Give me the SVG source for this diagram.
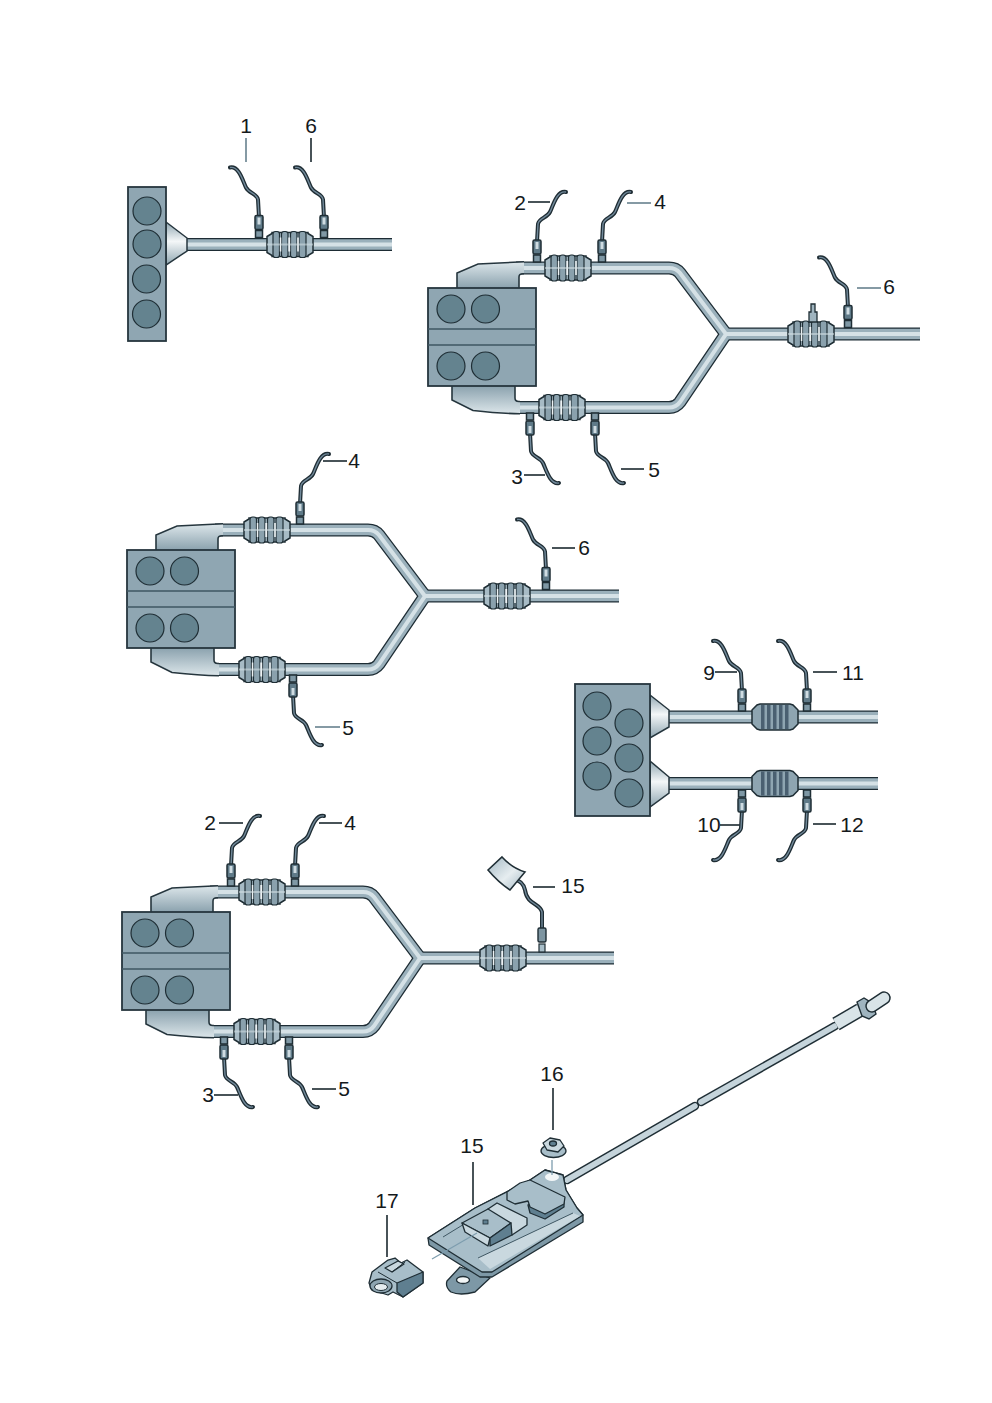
<svg xmlns="http://www.w3.org/2000/svg" width="992" height="1403" viewBox="0 0 992 1403">
<style>
text{font-family:"Liberation Sans",Arial,sans-serif;font-size:21px;fill:#14191c;text-anchor:middle}
.lead{stroke:#28343a;stroke-width:1.7;fill:none}
.leadl{stroke:#5d7886;stroke-width:1.5;fill:none}
.blk{fill:#8fa6b2;stroke:#26363e;stroke-width:1.8}
.cyl{fill:#64838f;stroke:#1f2e35;stroke-width:1.2}
.sep{stroke:#3f5763;stroke-width:1.4;fill:none}
.po{fill:none;stroke:#1d2c34;stroke-width:13}
.pm{fill:none;stroke:#9ab0bb;stroke-width:10.5}
.pl{fill:none;stroke:#d5e1e6;stroke-width:4}
.wo{fill:none;stroke:#1f2d34;stroke-width:4;stroke-linecap:round}
.wi{fill:none;stroke:#71899a;stroke-width:1.4}
.d{stroke:#1f2e35;stroke-width:1.3;stroke-linejoin:round}
.pa{fill:#a8bec9}.pb{fill:#c9d8df}.pc{fill:#5f7f90}.pw{fill:#f2f6f7}.ps{fill:#7d98a6}
</style>
<defs>
<linearGradient id="cone" x1="0" y1="0" x2="0" y2="1"><stop offset="0" stop-color="#8fa6b1"/><stop offset=".45" stop-color="#f4f7f8"/><stop offset="1" stop-color="#8fa6b1"/></linearGradient>
<linearGradient id="manT" x1="0" y1="0" x2="0" y2="1"><stop offset="0" stop-color="#dce6ea"/><stop offset="1" stop-color="#8ba2ae"/></linearGradient>
<linearGradient id="manB" x1="0" y1="0" x2="0" y2="1"><stop offset="0" stop-color="#8ba2ae"/><stop offset="1" stop-color="#dce6ea"/></linearGradient>
<linearGradient id="boxg" x1="0" y1="0" x2="1" y2="1"><stop offset="0" stop-color="#a3b8c3"/><stop offset=".55" stop-color="#e6edf0"/><stop offset="1" stop-color="#a3b8c3"/></linearGradient>
<g id="sensor">
<path class="wo" d="M-29-70C-20-72-16-56-13-50C-10-44-2-44-1-38L0-20"/>
<path class="wi" d="M-29-70C-20-72-16-56-13-50C-10-44-2-44-1-38L0-20"/>
<rect x="-4" y="-22" width="8" height="14" rx="1.500" fill="#5f7a88" stroke="#1f2e35" stroke-width="1.500"/>
<rect x="-1.500" y="-20" width="3" height="7" fill="#cfdce2"/>
<rect x="-3.500" y="-7" width="7" height="7" fill="#7f98a5" stroke="#1f2e35" stroke-width="1.500"/>
</g>
<g id="cat">
<path d="M-23-8L-18-11V-12H18V-11L23-8V8L18 11V12H-18V11L-23 8Z" fill="#a7bbc5" stroke="#1f2e35" stroke-width="1.500"/>
<g fill="#8aa1ad" stroke="#1f2e35" stroke-width="1.200">
<rect x="-17" y="-13" width="6.500" height="26" rx="2.500"/><rect x="-8.500" y="-13" width="6.500" height="26" rx="2.500"/><rect x="0.500" y="-13" width="6.500" height="26" rx="2.500"/><rect x="9" y="-13" width="7" height="26" rx="2.500"/>
</g>
<g fill="#eef3f5"><rect x="-10.200" y="-7" width="1.500" height="14"/><rect x="-1.700" y="-7" width="1.900" height="14"/><rect x="7.200" y="-7" width="1.600" height="14"/></g>
<path d="M-23 0H23" stroke="#d5e1e6" stroke-width="2" stroke-opacity=".55"/>
</g>
<g id="cat6">
<path d="M-23-7L-18-12L-15-13H15L18-12L23-7V7L18 12L15 13H-15L-18 12L-23 7Z" fill="#8ea5b1" stroke="#1f2e35" stroke-width="1.500"/>
<g fill="#42596a" fill-opacity=".9"><rect x="-14" y="-12" width="3.500" height="24"/><rect x="-8" y="-12" width="3.500" height="24"/><rect x="-2" y="-12" width="3.500" height="24"/><rect x="4" y="-12" width="3.500" height="24"/><rect x="10" y="-12" width="3.500" height="24"/></g>
</g>
<g id="v8">
<path class="po" d="M516 268H669Q676 268 680 273L726 334L680 402Q676 407.500 669 407.500H510"/>
<path class="po" d="M726 334H920"/>
<path class="pm" d="M516 268H669Q676 268 680 273L726 334L680 402Q676 407.500 669 407.500H510"/>
<path class="pm" d="M724 334H920"/>
<path class="pl" d="M516 268H669Q676 268 680 273L726 334L680 402Q676 407.500 669 407.500H510"/>
<path class="pl" d="M724 334H920"/>
<path d="M457 288V273L478 264Q500 263 524 262V273.500H523Q519 273.500 519 277V288Z" fill="url(#manT)"/>
<path d="M457 288V273L478 264Q500 263 524 261.800M524 273.800H523Q519 273.800 519 277V288" fill="none" stroke="#26363e" stroke-width="1.600"/>
<path d="M452 386V400L473 410.500Q500 413 520 413.800V402H519Q515 402 515 398V386Z" fill="url(#manB)"/>
<path d="M452 386V400L473 410.500Q500 413.500 520 413.800M520 401.500H519Q515 401.500 515 398V386" fill="none" stroke="#26363e" stroke-width="1.600"/>
<rect class="blk" x="428" y="288" width="108" height="98"/>
<path class="sep" d="M428 329H536M428 345H536"/>
<circle class="cyl" cx="451" cy="309" r="14"/><circle class="cyl" cx="485.500" cy="309" r="14"/>
<circle class="cyl" cx="451" cy="366" r="14"/><circle class="cyl" cx="485.500" cy="366" r="14"/>
</g>
</defs>
<rect width="992" height="1403" fill="#fff"/>

<g id="engine-inline4">
<path class="po" d="M186 244.500H392"/><path class="pm" d="M186 244.500H392"/><path class="pl" d="M186 244.500H392"/>
<path d="M166 222L187 238V251L166 265Z" fill="url(#cone)" stroke="#26363e" stroke-width="1.500"/>
<rect class="blk" x="128" y="187" width="38" height="154"/>
<circle class="cyl" cx="147" cy="211" r="14"/><circle class="cyl" cx="147" cy="244" r="14"/><circle class="cyl" cx="146.500" cy="279" r="14"/><circle class="cyl" cx="146.500" cy="314" r="14"/>
<use href="#cat" x="290" y="244.500"/>
<use href="#sensor" x="259" y="237.500"/><use href="#sensor" x="324" y="237.500"/>
</g>

<g id="engine-v8-top">
<use href="#v8"/>
<use href="#cat" x="568" y="268"/><use href="#cat" x="562" y="407.500"/><use href="#cat" x="811" y="334"/>
<use href="#sensor" transform="translate(537 262) scale(-1 1)"/>
<use href="#sensor" transform="translate(602 262) scale(-1 1)"/>
<use href="#sensor" transform="translate(530 413) scale(-1 -1)"/>
<use href="#sensor" transform="translate(595 413) scale(-1 -1)"/>
<use href="#sensor" x="848" y="327.500"/>
<path d="M809 322V312H811V304H815V312H817V322Z" fill="#9fb4bf" stroke="#1f2e35" stroke-width="1.300"/>
</g>

<g id="engine-v8-middle">
<use href="#v8" transform="translate(-301 262)"/>
<use href="#cat" x="267" y="530"/><use href="#cat" x="262" y="669.500"/><use href="#cat" x="507" y="596"/>
<use href="#sensor" transform="translate(300 524) scale(-1 1)"/>
<use href="#sensor" transform="translate(293 675) scale(-1 -1)"/>
<use href="#sensor" x="546" y="589.500"/>
</g>

<g id="engine-v6">
<path class="po" d="M668 717H878"/><path class="pm" d="M668 717H878"/><path class="pl" d="M668 717H878"/>
<path class="po" d="M668 783.500H878"/><path class="pm" d="M668 783.500H878"/><path class="pl" d="M668 783.500H878"/>
<path d="M650 695L669 710V727L650 738Z" fill="url(#cone)" stroke="#26363e" stroke-width="1.500"/>
<path d="M650 761L669 777V793L650 807Z" fill="url(#cone)" stroke="#26363e" stroke-width="1.500"/>
<rect class="blk" x="575" y="684" width="75" height="132"/>
<circle class="cyl" cx="597" cy="706" r="14"/><circle class="cyl" cx="629" cy="723" r="14"/><circle class="cyl" cx="597" cy="741" r="14"/><circle class="cyl" cx="629" cy="758" r="14"/><circle class="cyl" cx="597" cy="776" r="14"/><circle class="cyl" cx="629" cy="793" r="14"/>
<use href="#cat6" x="775" y="717"/><use href="#cat6" x="775" y="783.500"/>
<use href="#sensor" x="742" y="711"/><use href="#sensor" x="807" y="711"/>
<use href="#sensor" transform="translate(742 790) scale(1 -1)"/><use href="#sensor" transform="translate(807 790) scale(1 -1)"/>
</g>

<g id="engine-v8-bottom">
<use href="#v8" transform="translate(-306 624)"/>
<use href="#cat" x="262" y="892"/><use href="#cat" x="257" y="1031.500"/><use href="#cat" x="503" y="958"/>
<use href="#sensor" transform="translate(231 886) scale(-1 1)"/>
<use href="#sensor" transform="translate(295 886) scale(-1 1)"/>
<use href="#sensor" transform="translate(224 1037) scale(-1 -1)"/>
<use href="#sensor" transform="translate(289 1037) scale(-1 -1)"/>
</g>

<g id="sensor-15-small">
<path class="wo" d="M515 880Q523 881 525 890C527 905 540 903 542 912V928"/>
<path class="wi" d="M515 880Q523 881 525 890C527 905 540 903 542 912V928"/>
<rect x="538" y="928" width="8" height="14" rx="1.500" fill="#7d95a1" stroke="#1f2e35" stroke-width="1.400"/>
<rect x="539" y="944" width="6" height="8" fill="#a8bec9" stroke="#1f2e35" stroke-width="1.200"/>
<path d="M488 870L502 857Q512 868 525 872L510 890Q498 882 488 870Z" fill="url(#boxg)" stroke="#1f2e35" stroke-width="1.600"/>
</g>

<g id="nox-sensor-cable">
<path d="M567 1180L695 1106" fill="none" stroke="#1f2e35" stroke-width="8.500" stroke-linecap="round"/>
<path d="M567 1180L695 1106" fill="none" stroke="#c5d4db" stroke-width="5.500" stroke-linecap="round"/>
<path d="M701 1102L835 1026" fill="none" stroke="#1f2e35" stroke-width="8.500" stroke-linecap="round"/>
<path d="M701 1102L835 1026" fill="none" stroke="#c5d4db" stroke-width="5.500" stroke-linecap="round"/>
<path d="M836 1024L860 1010" fill="none" stroke="#1f2e35" stroke-width="14.500"/>
<path d="M836 1024L860 1010" fill="none" stroke="#d9e4e8" stroke-width="11.500"/>
<path d="M857 1002L864 998L872 1003L876 1014L869 1019L862 1016Z" fill="#9fb4bf" stroke="#1f2e35" stroke-width="1.400"/>
<path d="M872 1006L884 998" fill="none" stroke="#1f2e35" stroke-width="13.500" stroke-linecap="round"/>
<path d="M872 1006L884 998" fill="none" stroke="#d9e4e8" stroke-width="10.500" stroke-linecap="round"/>
</g>

<g id="nox-sensor-plate">
<path class="ps d" d="M447 1281L460 1267L490 1278L475 1292Q460 1296 451 1292Q445 1287 447 1281Z"/>
<ellipse class="pw d" cx="463" cy="1280" rx="6.500" ry="3.500"/>
<path class="ps d" d="M428 1238L475 1208L530 1180L545 1170L563 1175L566 1190L577 1208L583 1215V1222L492 1277H480L429 1245Z"/>
<path class="pa d" d="M428 1238L475 1208L530 1180L545 1170L563 1175L566 1190L577 1208L583 1215L492 1272H482Z"/>
<path class="pb" d="M478 1258L573 1213L580 1216L490 1269Z"/>
<path d="M443 1237L487 1210M478 1258L573 1213" fill="none" stroke="#3f5763" stroke-width="1"/>
<ellipse class="pw" cx="552" cy="1177" rx="7" ry="4"/>
<path class="pb d" d="M488 1209L497 1203L527 1218V1225L512 1235L488 1223Z"/>
<path class="pa d" d="M462 1223L488 1209L511 1223L490 1238Z"/>
<path class="pb d" d="M462 1223L465 1232L488 1246L490 1238Z"/>
<path class="pc d" d="M490 1238L511 1223L512 1235L490 1246Z"/>
<rect x="483" y="1220" width="5" height="4" fill="#5f7f90" stroke="#1f2e35" stroke-width=".8"/>
<path class="pc d" d="M528 1205L530 1213L545 1219L564 1207V1197Z"/>
<path class="pa d" d="M507 1192L520 1183L530 1180L565 1197L564 1204L545 1214L530 1207L528 1201L515 1204L507 1200Z"/>
<path d="M432 1259L477 1233" fill="none" stroke="#7d9dae" stroke-width="1.200"/>
</g>

<g id="nut-16">
<path d="M552 1160V1175" fill="none" stroke="#7d9dae" stroke-width="1.300"/>
<ellipse class="pa d" cx="553.500" cy="1151" rx="12.500" ry="6.500"/>
<path class="pb d" d="M543 1143L550 1138L560 1140L564 1146L558 1152L547 1150Z"/>
<ellipse class="pc d" cx="553" cy="1143.500" rx="3.500" ry="2.500"/>
</g>

<g id="connector-17">
<path class="pa d" d="M372 1272L388 1260L395 1258L401 1263L407 1260L423 1272V1283L403 1297L393 1292L388 1295L372 1290L369 1283Z"/>
<path class="pc d" d="M397 1283L423 1272V1283L403 1297L397 1292Z"/>
<path class="pb d" d="M385 1268L398 1261L404 1264L392 1272Z"/>
<path d="M378 1272L397 1283M405 1262L392 1272" fill="none" stroke="#1f2e35" stroke-width="1"/>
<ellipse cx="381" cy="1286" rx="11" ry="7" fill="#8ea5b1" stroke="#1f2e35" stroke-width="1.300"/>
<ellipse cx="381" cy="1287" rx="6.500" ry="3.500" fill="#e4ecef" stroke="#1f2e35" stroke-width="1"/>
</g>

<g id="leaders">
<path class="leadl" d="M246 138V162"/><path class="lead" d="M311 138V162"/>
<path class="lead" d="M528 202H550"/><path class="leadl" d="M627 203H651"/><path class="lead" d="M524 475H545"/><path class="lead" d="M621 469H644"/><path class="leadl" d="M857 288H881"/>
<path class="lead" d="M323 461H347"/><path class="leadl" d="M315 727H340"/><path class="lead" d="M552 548H575"/>
<path class="lead" d="M715 672H737"/><path class="lead" d="M813 672H837"/><path class="lead" d="M720 825H740"/><path class="lead" d="M813 824H836"/>
<path class="lead" d="M219 823H243"/><path class="lead" d="M319 823H342"/><path class="lead" d="M533 887H555"/><path class="lead" d="M214 1095H238"/><path class="lead" d="M312 1089H336"/>
<path class="lead" d="M553 1088V1130"/><path class="lead" d="M473 1162V1205"/><path class="lead" d="M387 1215V1257"/>
</g>

<g id="labels">
<text x="246" y="133">1</text><text x="311" y="133">6</text>
<text x="520" y="210">2</text><text x="660" y="209">4</text><text x="517" y="484">3</text><text x="654" y="477">5</text><text x="889" y="294">6</text>
<text x="354" y="468">4</text><text x="348" y="735">5</text><text x="584" y="555">6</text>
<text x="709" y="680">9</text><text x="853" y="680">11</text><text x="709" y="832">10</text><text x="852" y="832">12</text>
<text x="210" y="830">2</text><text x="350" y="830">4</text><text x="573" y="893">15</text><text x="208" y="1102">3</text><text x="344" y="1096">5</text>
<text x="552" y="1081">16</text><text x="472" y="1153">15</text><text x="387" y="1208">17</text>
</g>
</svg>
